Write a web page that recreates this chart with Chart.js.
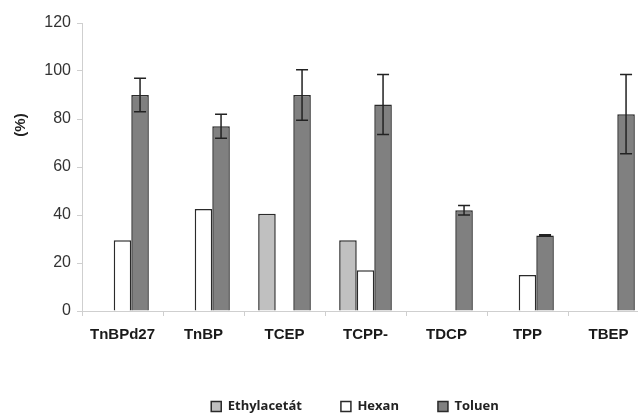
<!DOCTYPE html>
<html>
<head>
<meta charset="utf-8">
<script src="https://cdn.jsdelivr.net/npm/chart.js@4"></script>
<style>
  html, body { margin: 0; padding: 0; background: #fff; overflow: hidden; }
  #wrap { width: 710px; height: 414px; }
</style>
</head>
<body>
<div id="wrap"><canvas id="chart"></canvas></div>
<script>
// values
var labels = ["TnBPd27", "TnBP", "TCEP", "TCPP-", "TDCP", "TPP", "TBEP"];
var ethylacetat = [null, null, 40.5, 29.5, null, null, null];
var hexan = [29.5, 42.5, null, 17, null, 15, null];
var toluen = [90, 77, 90, 86, 42, 31.5, 82];
var toluenErr = [7, 5, 10.5, 12.5, 2, 0.3, 16.5];
var yTicks = [0, 20, 40, 60, 80, 100, 120];

// error bars on the toluen series
var errorBars = {
    id: 'errorBars',
    afterDatasetsDraw: function(chart) {
        var ctx = chart.ctx;
        var y = chart.scales.y;
        var meta = chart.getDatasetMeta(2);
        ctx.save();
        ctx.strokeStyle = '#222';
        ctx.lineWidth = 1.5;
        meta.data.forEach(function(bar, i) {
            var v = toluen[i], e = toluenErr[i];
            if (v == null || !e) return;
            var top = y.getPixelForValue(v + e);
            var bot = y.getPixelForValue(v - e);
            ctx.beginPath();
            ctx.moveTo(bar.x, top); ctx.lineTo(bar.x, bot);
            ctx.moveTo(bar.x - 6, top); ctx.lineTo(bar.x + 6, top);
            ctx.moveTo(bar.x - 6, bot); ctx.lineTo(bar.x + 6, bot);
            ctx.stroke();
        });
        ctx.restore();
    }
};

// rotated "(%)" label, sits above the middle of the axis
var yLabel = {
    id: 'yLabel',
    afterDraw: function(chart) {
        var ctx = chart.ctx;
        ctx.save();
        ctx.translate(21, 125);
        ctx.rotate(-Math.PI / 2);
        ctx.font = 'bold 15px "Liberation Sans", Arial, sans-serif';
        ctx.fillStyle = '#222';
        ctx.textAlign = 'center';
        ctx.textBaseline = 'middle';
        ctx.fillText('(%)', 0, 0);
        ctx.restore();
    }
};

// legend sits right at the bottom edge in the original - nudge it down a bit
var legendShift = {
    id: 'legendShift',
    afterLayout: function(chart) {
        chart.legend.top += 5;
        chart.legend.bottom += 5;
    }
};

new Chart(document.getElementById('chart'), {
    type: 'bar',
    data: {
        labels: labels,
        datasets: [{
            label: 'Ethylacetát',
            data: ethylacetat,
            backgroundColor: '#c0c0c0',
            borderColor: '#2a2a2a',
            borderWidth: 1.5
        }, {
            label: 'Hexan',
            data: hexan,
            backgroundColor: '#ffffff',
            borderColor: '#2a2a2a',
            borderWidth: 1.5
        }, {
            label: 'Toluen',
            data: toluen,
            backgroundColor: '#808080',
            borderColor: '#2a2a2a',
            borderWidth: 1.5
        }]
    },
    options: {
        responsive: true,
        maintainAspectRatio: false,
        animation: false,
        categoryPercentage: 0.65,
        barPercentage: 1,
        layout: { padding: { top: 23, left: 0, right: 0, bottom: -4 } },
        plugins: {
            tooltip: { enabled: false },
            legend: {
                position: 'bottom',
                labels: {
                    boxWidth: 10,
                    boxHeight: 10,
                    padding: 39,
                    color: '#222',
                    font: { family: '"Open Sans", sans-serif', size: 13, weight: 'bold' }
                }
            }
        },
        scales: {
            x: {
                grid: { drawOnChartArea: false, drawTicks: true, tickLength: 5, color: '#cfcfcf' },
                border: { color: '#cfcfcf', width: 1 },
                ticks: {
                    padding: 10,
                    color: '#1a1a1a',
                    font: { family: '"Liberation Sans", Arial, sans-serif', size: 15, weight: 'bold' }
                },
                afterFit: function(s) { s.height = 45; }
            },
            y: {
                min: 0,
                max: 120,
                afterBuildTicks: function(s) { s.ticks = yTicks.map(function(v) { return { value: v }; }); },
                grid: { drawOnChartArea: false, drawTicks: true, tickLength: 5, color: '#cfcfcf' },
                border: { color: '#cfcfcf', width: 1 },
                ticks: {
                    padding: 6,
                    color: '#333',
                    font: { family: '"Liberation Sans", Arial, sans-serif', size: 16 }
                },
                afterFit: function(s) { s.width = 82; }
            },
            // spacer on the right so the last category runs past the window edge
            yr: {
                position: 'right',
                display: true,
                grid: { display: false },
                border: { display: false },
                ticks: { display: false },
                afterFit: function(s) { s.width = 61; }
            }
        }
    },
    plugins: [errorBars, yLabel, legendShift]
});
</script>
</body>
</html>
